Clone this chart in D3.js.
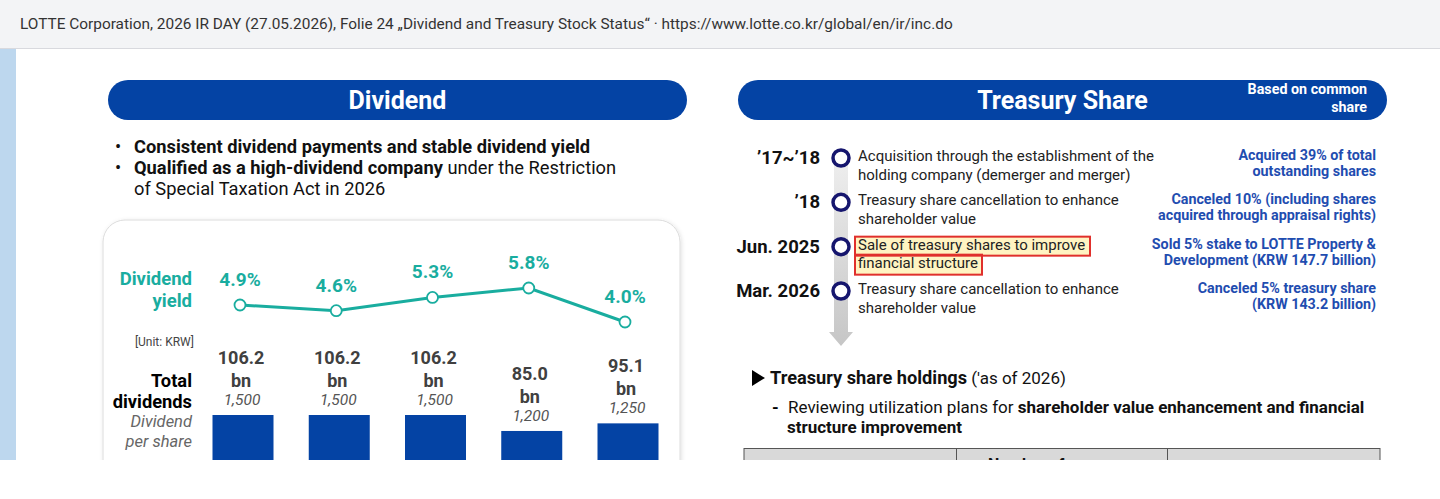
<!DOCTYPE html>
<html>
<head>
<meta charset="utf-8">
<script src="https://cdn.jsdelivr.net/npm/d3@7"></script>
<style>
  html, body { margin: 0; padding: 0; background: #fff; }
  svg { display: block; font-family: Roboto, "Noto Sans", sans-serif; }
</style>
</head>
<body>
<svg id="chart" width="1440" height="499"></svg>
<script>
// ---- data ----
const periods = [1, 2, 3, 4, 5];                 // year labels are cut off in the picture
const yields = [4.9, 4.6, 5.3, 5.8, 4.0];        // dividend yield, %
const totals = [106.2, 106.2, 106.2, 85.0, 95.1]; // total dividends, KRW bn
const dps = [1500, 1500, 1500, 1200, 1250];       // dividend per share, KRW

const eventDates = ["\u201917~\u201918", "\u201918", "Jun. 2025", "Mar. 2026"];
const eventTexts = [
  ["Acquisition through the establishment of the", "holding company (demerger and merger)"],
  ["Treasury share cancellation to enhance", "shareholder value"],
  ["Sale of treasury shares to improve", "financial structure"],
  ["Treasury share cancellation to enhance", "shareholder value"]
];
const eventNotes = [
  ["Acquired 39% of total", "outstanding shares"],
  ["Canceled 10% (including shares", "acquired through appraisal rights)"],
  ["Sold 5% stake to LOTTE Property &", "Development (KRW 147.7 billion)"],
  ["Canceled 5% treasury share", "(KRW 143.2 billion)"]
];
const highlighted = 2;

const BLUE = "#0443a4", TEAL = "#19ad9f", NAVY = "#16166e";

const svg = d3.select("#chart");
const defs = svg.append("defs");

// page frame: caption bar + side strip
svg.append("rect").attr("width", 1440).attr("height", 48).attr("fill", "#f3f4f6");
svg.append("line").attr("x1", 0).attr("x2", 1440).attr("y1", 48.5).attr("y2", 48.5)
  .attr("stroke", "#d8d9de");
svg.append("text").attr("x", 20).attr("y", 29).attr("font-size", 15.4).attr("fill", "#333")
  .text("LOTTE Corporation, 2026 IR DAY (27.05.2026), Folie 24 \u201EDividend and Treasury Stock Status\u201C \u00B7 https://www.lotte.co.kr/global/en/ir/inc.do");

defs.append("clipPath").attr("id", "slide")
  .append("rect").attr("x", 0).attr("y", 49).attr("width", 1440).attr("height", 411);
const slide = svg.append("g").attr("clip-path", "url(#slide)");
slide.append("rect").attr("x", 0).attr("y", 49).attr("width", 16).attr("height", 411).attr("fill", "#bdd7ee");

// ---- headers ----
function pill(x, w, label) {
  slide.append("rect").attr("x", x).attr("y", 80).attr("width", w).attr("height", 40)
    .attr("rx", 20).attr("fill", BLUE);
  slide.append("text").attr("x", x + w / 2).attr("y", 109).attr("text-anchor", "middle")
    .attr("fill", "#fff").attr("font-size", 25).attr("font-weight", 700).text(label);
}
pill(108, 579, "Dividend");
pill(738, 649, "Treasury Share");
slide.append("text").attr("text-anchor", "end").attr("fill", "#fff").attr("font-size", 14.3)
  .attr("font-weight", 700)
  .selectAll("tspan").data(["Based on common", "share"]).join("tspan")
  .attr("x", 1367).attr("y", (d, i) => 94 + i * 18).text(d => d);

// ---- bullets ----
const bullets = slide.append("g").attr("font-size", 18.3).attr("fill", "#111");
[[["Consistent dividend payments and stable dividend yield", 700]],
 [["Qualified as a high-dividend company", 700], [" under the Restriction", 400]],
 [["of Special Taxation Act in 2026", 400]]].forEach((parts, i) => {
  if (i < 2) bullets.append("text").attr("x", 115).attr("y", 153 + i * 21).text("\u2022");
  const t = bullets.append("text").attr("x", 134).attr("y", 153 + i * 21);
  parts.forEach(p => t.append("tspan").attr("font-weight", p[1]).text(p[0]));
});

// ---- chart card ----
const shadow = defs.append("filter").attr("id", "shadow").attr("x", "-5%").attr("y", "-5%")
  .attr("width", "110%").attr("height", "110%");
shadow.append("feDropShadow").attr("dx", 1).attr("dy", 1).attr("stdDeviation", 2)
  .attr("flood-color", "#000").attr("flood-opacity", 0.12);
slide.append("rect").attr("x", 103).attr("y", 220).attr("width", 577).attr("height", 320)
  .attr("rx", 22).attr("fill", "#fff").attr("stroke", "#dcdcdc").attr("filter", "url(#shadow)");

const x = d3.scalePoint().domain(periods).range([243, 628]);
const yYield = d3.scaleLinear().domain([4.0, 5.8]).range([322, 288]);
const yBar = d3.scaleLinear().domain([0, 106.2]).range([495, 415]);
const barW = 61;
const rows = periods.map((p, i) => ({ p, yl: yields[i], tot: totals[i], dps: dps[i] }));

// row labels
const lab = slide.append("g").attr("text-anchor", "end");
lab.append("text").attr("fill", TEAL).attr("font-size", 18.5).attr("font-weight", 700)
  .selectAll("tspan").data(["Dividend", "yield"]).join("tspan")
  .attr("x", 192).attr("y", (d, i) => 285 + i * 22).text(d => d);
lab.append("text").attr("x", 194).attr("y", 346).attr("font-size", 12).attr("fill", "#444")
  .text("[Unit: KRW]");
lab.append("text").attr("fill", "#000").attr("font-size", 18.3).attr("font-weight", 700)
  .selectAll("tspan").data(["Total", "dividends"]).join("tspan")
  .attr("x", 192).attr("y", (d, i) => 387 + i * 21).text(d => d);
lab.append("text").attr("fill", "#666").attr("font-size", 16.5).attr("font-style", "italic")
  .selectAll("tspan").data(["Dividend", "per share"]).join("tspan")
  .attr("x", 192).attr("y", (d, i) => 427 + i * 20).text(d => d);

// bars
slide.append("g").selectAll("rect").data(rows).join("rect")
  .attr("x", d => x(d.p) - barW / 2).attr("width", barW)
  .attr("y", d => yBar(d.tot)).attr("height", d => yBar(0) - yBar(d.tot))
  .attr("fill", BLUE);

const barLab = slide.append("g").attr("text-anchor", "middle");
barLab.selectAll("text.tot").data(rows).join("text").attr("class", "tot")
  .attr("font-size", 18).attr("font-weight", 700).attr("fill", "#404040")
  .selectAll("tspan").data(d => [[d.tot.toFixed(1), d], ["bn", d]]).join("tspan")
  .attr("x", d => x(d[1].p) - 2).attr("y", (d, i) => yBar(d[1].tot) - 51 + i * 23).text(d => d[0]);
barLab.selectAll("text.dps").data(rows).join("text").attr("class", "dps")
  .attr("x", d => x(d.p) - 1).attr("y", d => yBar(d.tot) - 10)
  .attr("font-size", 15.5).attr("font-style", "italic").attr("fill", "#555")
  .text(d => d3.format(",")(d.dps));

// yield line
const lx = d => x(d.p) - 3;
slide.append("path").datum(rows)
  .attr("d", d3.line().x(lx).y(d => yYield(d.yl)))
  .attr("fill", "none").attr("stroke", TEAL).attr("stroke-width", 3);
slide.append("g").selectAll("circle").data(rows).join("circle")
  .attr("cx", lx).attr("cy", d => yYield(d.yl)).attr("r", 5.5)
  .attr("fill", "#fff").attr("stroke", TEAL).attr("stroke-width", 1.8);
slide.append("g").selectAll("text").data(rows).join("text")
  .attr("x", lx).attr("y", d => yYield(d.yl) - 19).attr("text-anchor", "middle")
  .attr("font-size", 19).attr("font-weight", 700).attr("fill", TEAL)
  .text(d => d.yl.toFixed(1) + "%");

// ---- treasury share timeline ----
const ty = d3.scalePoint().domain(eventDates).range([158, 291]);
const grad = defs.append("linearGradient").attr("id", "shaft").attr("x1", 0).attr("x2", 0)
  .attr("y1", 0).attr("y2", 1);
grad.append("stop").attr("offset", 0).attr("stop-color", "#f0f0f0");
grad.append("stop").attr("offset", 1).attr("stop-color", "#c6c6c6");
slide.append("path")
  .attr("d", "M834,150 H848 V332 H853 L841,346 L829,332 H834 Z")
  .attr("fill", "url(#shaft)");

// highlight boxes around the third description (fill below text, border on top)
const hy = ty(eventDates[highlighted]);
const hBoxes = [[855, hy - 10, 235, 19], [855, hy + 8, 127, 20]];
slide.append("g").selectAll("rect").data(hBoxes).join("rect")
  .attr("x", d => d[0]).attr("y", d => d[1]).attr("width", d => d[2]).attr("height", d => d[3])
  .attr("fill", "#fff4c2");

const ev = slide.append("g").selectAll("g").data(eventDates).join("g");
ev.append("circle").attr("cx", 841).attr("cy", d => ty(d)).attr("r", 8)
  .attr("fill", "#fff").attr("stroke", NAVY).attr("stroke-width", 3.5);
ev.append("text").attr("x", 820).attr("y", d => ty(d) + 6).attr("text-anchor", "end")
  .attr("font-size", 18.5).attr("font-weight", 700).attr("fill", "#111")
  .text(d => d);
ev.append("text").attr("font-size", 15).attr("fill", "#222")
  .selectAll("tspan").data((d, i) => eventTexts[i].map(t => [t, ty(d)])).join("tspan")
  .attr("x", 858).attr("y", (d, i) => d[1] + 3 + i * 18.5).text(d => d[0]);
ev.append("text").attr("font-size", 14.3).attr("font-weight", 700).attr("fill", "#1f4db0")
  .attr("text-anchor", "end")
  .selectAll("tspan").data((d, i) => eventNotes[i].map(t => [t, ty(d)])).join("tspan")
  .attr("x", 1376).attr("y", (d, i) => d[1] + 2 + i * 16).text(d => d[0]);

slide.append("g").selectAll("rect").data(hBoxes).join("rect")
  .attr("x", d => d[0]).attr("y", d => d[1]).attr("width", d => d[2]).attr("height", d => d[3])
  .attr("fill", "none").attr("stroke", "#e0302c").attr("stroke-width", 2);

// holdings note
slide.append("path").attr("d", "M752,370 L765,378 L752,386 Z").attr("fill", "#000");
const h = slide.append("text").attr("x", 770).attr("y", 384).attr("font-size", 18.2).attr("fill", "#111");
h.append("tspan").attr("font-weight", 700).text("Treasury share holdings");
h.append("tspan").attr("font-size", 17).text(" ('as of 2026)");
slide.append("text").attr("x", 772).attr("y", 413).attr("font-size", 17).attr("font-weight", 700).text("-");
const r1 = slide.append("text").attr("x", 788).attr("y", 413).attr("font-size", 17).attr("fill", "#111");
r1.append("tspan").text("Reviewing utilization plans for ");
r1.append("tspan").attr("font-weight", 700).text("shareholder value enhancement and financial");
slide.append("text").attr("x", 787).attr("y", 433).attr("font-size", 17).attr("font-weight", 700)
  .attr("fill", "#111").text("structure improvement");

// table header (only its top edge is visible)
const cols = [744, 956, 1167, 1380];
slide.append("rect").attr("x", cols[0]).attr("y", 448.5).attr("width", cols[3] - cols[0]).attr("height", 30)
  .attr("fill", "#d9d9d9").attr("stroke", "#555");
slide.append("g").selectAll("line").data(cols.slice(1, 3)).join("line")
  .attr("x1", d => d + 0.5).attr("x2", d => d + 0.5).attr("y1", 448).attr("y2", 480)
  .attr("stroke", "#555");
slide.append("text").attr("x", 988).attr("y", 470).attr("font-size", 16).attr("font-weight", 700)
  .attr("fill", "#111").text("Number of");
</script>
</body>
</html>
